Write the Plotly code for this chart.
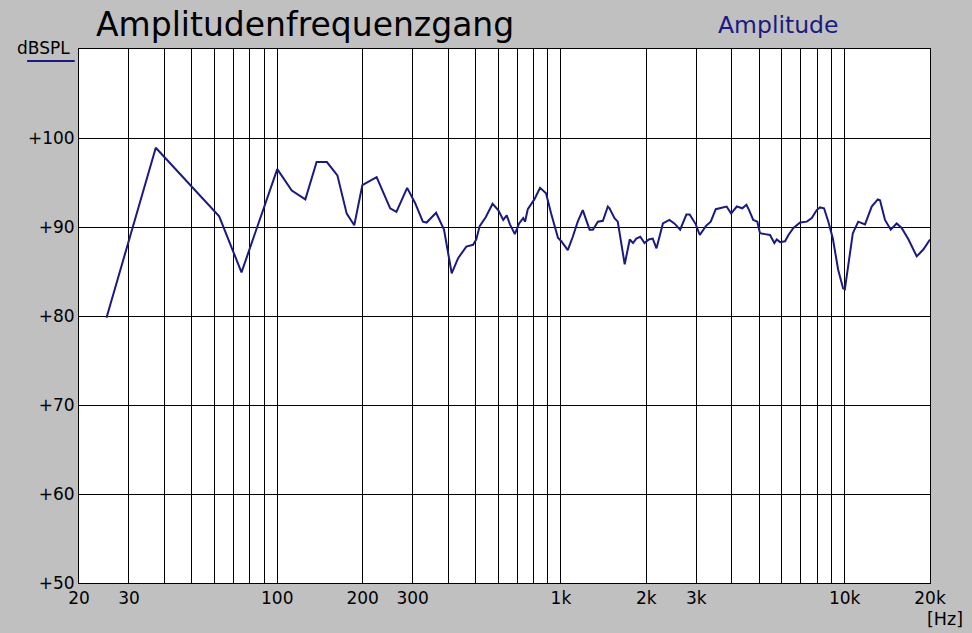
import plotly.graph_objects as go

freq_hz = [25.0, 37.3, 62.4, 74.8, 100, 112.5, 125.6, 137.6, 149.6, 162.9, 175.7, 186.8, 199.5, 224,
           250, 263, 287, 306, 326, 336, 363, 387, 412, 434, 464, 490, 503, 517, 543, 574, 601, 626,
           644, 661, 688, 712, 736, 747, 764, 806, 844, 867, 886, 924, 976, 1003, 1057, 1101, 1146,
           1194, 1262, 1296, 1350, 1406, 1463, 1483, 1545, 1586, 1678, 1748, 1795, 1844, 1904, 1971,
           2041, 2107, 2172, 2288, 2412, 2510, 2632, 2768, 2843, 2988, 3087, 3240, 3373, 3514, 3660,
           3838, 3980, 4168, 4359, 4506, 4606, 4762, 4924, 5031, 5241, 5458, 5654, 5765, 5922, 6167,
           6338, 6600, 6970, 7358, 7662, 7972, 8190, 8462, 8764, 9090, 9490, 9880, 10020, 10350,
           10690, 11170, 11800, 12460, 13090, 13330, 13880, 14540, 15260, 15890, 16800, 17960,
           18970, 20000]
level_db = [79.8, 98.9, 91.2, 84.9, 96.5, 94.1, 93.1, 97.3, 97.3, 95.8, 91.5, 90.2, 94.7, 95.6,
            92.1, 91.7, 94.4, 92.7, 90.6, 90.5, 91.6, 89.7, 84.8, 86.5, 87.8, 88.0, 88.6, 90.1, 91.1,
            92.6, 91.9, 90.8, 91.3, 90.3, 89.2, 90.4, 91.0, 90.6, 92.0, 93.1, 94.4, 94.1, 93.8, 91.5,
            88.8, 88.4, 87.4, 88.9, 90.6, 91.9, 89.7, 89.7, 90.6, 90.7, 92.3, 92.1, 91.0, 90.6, 85.8,
            88.6, 88.2, 88.7, 88.9, 88.2, 88.6, 88.7, 87.6, 90.4, 90.8, 90.4, 89.7, 91.4, 91.4, 90.3,
            89.1, 90.1, 90.6, 92.0, 92.1, 92.3, 91.5, 92.3, 92.1, 92.5, 91.9, 90.8, 90.6, 89.3, 89.2,
            89.1, 88.2, 88.6, 88.3, 88.4, 89.1, 89.9, 90.5, 90.6, 91.0, 91.9, 92.2, 92.1, 90.6, 88.7,
            85.2, 83.1, 83.0, 86.3, 89.3, 90.6, 90.3, 92.3, 93.1, 93.0, 90.8, 89.7, 90.4, 89.9, 88.6,
            86.7, 87.5, 88.6]

x_grid = [20, 30, 40, 50, 60, 70, 80, 90, 100, 200, 300, 400, 500, 600, 700, 800, 900,
          1000, 2000, 3000, 4000, 5000, 6000, 7000, 8000, 9000, 10000, 20000]
x_labels = ["20", "30", "", "", "", "", "", "", "100", "200", "300", "", "", "", "", "", "",
            "1k", "2k", "3k", "", "", "", "", "", "", "10k", "20k"]
y_ticks = [50, 60, 70, 80, 90, 100]
y_labels = ["+50", "+60", "+70", "+80", "+90", "+100"]

FONT = "DejaVu Sans"
NAVY = "#1a1a80"

fig = go.Figure()
fig.add_trace(go.Scatter(x=freq_hz, y=level_db, mode="lines",
                         line=dict(color=NAVY, width=2), showlegend=False))

fig.update_layout(
    width=972, height=633,
    margin=dict(l=79, r=42, t=49, b=50),
    paper_bgcolor="#C0C0C0", plot_bgcolor="white",
    font=dict(family=FONT, color="black", size=17),
    xaxis=dict(type="log", range=[1.30103, 4.30103], tickvals=x_grid, ticktext=x_labels,
               showgrid=True, gridcolor="black", gridwidth=1, showline=True, linecolor="black",
               linewidth=1, mirror=True, ticks="", tickfont=dict(size=17), zeroline=False),
    yaxis=dict(range=[50, 110], tickvals=y_ticks, ticktext=y_labels, showgrid=True,
               gridcolor="black", gridwidth=1, showline=True, linecolor="black", linewidth=1,
               mirror=True, ticks="", tickfont=dict(size=17), zeroline=False),
)

fig.add_annotation(text="Amplitudenfrequenzgang", xref="paper", yref="paper", x=0.2656, y=1.045,
                   xanchor="center", yanchor="middle", showarrow=False,
                   font=dict(family=FONT, size=33, color="black"))
fig.add_annotation(text="Amplitude", xref="paper", yref="paper", x=0.8214, y=1.045,
                   xanchor="center", yanchor="middle", showarrow=False,
                   font=dict(family=FONT, size=23.5, color=NAVY))
fig.add_annotation(text="dBSPL", xref="paper", yref="paper", x=-0.0423, y=1.002,
                   xanchor="center", yanchor="middle", showarrow=False,
                   font=dict(family=FONT, size=17, color="black"))
fig.add_annotation(text="[Hz]", xref="paper", yref="paper", x=1.041, y=-0.067,
                   xanchor="right", yanchor="middle", showarrow=False,
                   font=dict(family=FONT, size=17.5, color="black"))
fig.add_shape(type="line", xref="paper", yref="paper", x0=-0.061, x1=-0.005, y0=0.9775, y1=0.9775,
              line=dict(color=NAVY, width=2))

fig.write_html("out.html", config={"displayModeBar": False},
               post_script="document.body.style.margin='0';document.body.style.overflow='hidden';")
